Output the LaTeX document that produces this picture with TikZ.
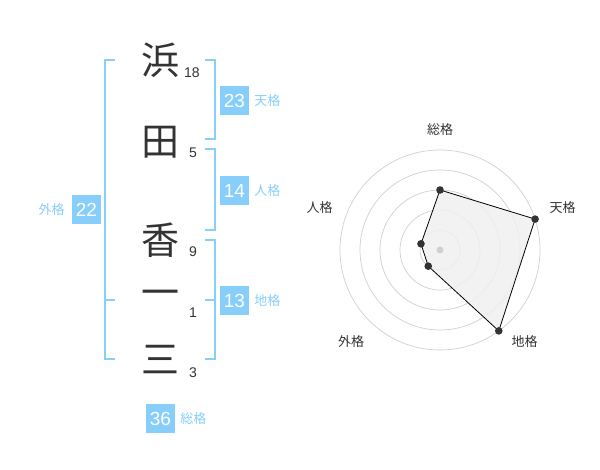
\documentclass[tikz,border=0pt]{standalone}
\usepackage{fontspec}
\setmainfont{Liberation Sans}
\newfontfamily\cjk{Noto Sans CJK JP}
\usetikzlibrary{positioning}
\begin{document}
\begin{tikzpicture}[x=1pt,y=1pt,
  kanji/.style={text=textColor,inner sep=0pt,font=\cjk\fontsize{38}{38}\selectfont},
  strokes/.style={text=textColor,inner sep=0pt,font=\fontsize{14}{14}\selectfont},
  kakubox/.style={fill=kakuColor,text=white,inner sep=0pt,minimum size=29pt,font=\fontsize{19}{19}\selectfont},
  kakulabel/.style={text=kakuColor,inner sep=0pt,font=\cjk\fontsize{13}{13}\selectfont},
  bracket/.style={draw=kakuColor,line width=2pt},
  axislabel/.style={text=textColor,inner sep=0pt,font=\cjk\fontsize{13}{13}\selectfont},
  ring/.style={draw=ringColor,line width=0.7pt},
  dot/.style={fill=textColor}]
\definecolor{fillColor}{RGB}{255,255,255}
\definecolor{textColor}{RGB}{51,51,51}
\definecolor{kakuColor}{RGB}{135,206,250}
\definecolor{ringColor}{RGB}{208,208,208}
\definecolor{areaColor}{RGB}{240,240,240}
\path[use as bounding box,fill=fillColor] (0,0) rectangle (600,470);

\node[kanji] (hama) at (160,410) {浜};
\node[kanji] (ta) at (160,328) {田};
\node[kanji] (kaori) at (160,230) {香};
\node[kanji] (ichi) at (160,172) {一};
\node[kanji] (san) at (160,110) {三};

\node[strokes] (nHama) at (192,397) {18};
\node[strokes] (nTa) at (193,317) {5};
\node[strokes] (nKaori) at (193,218) {9};
\node[strokes] (nIchi) at (193,157) {1};
\node[strokes] (nSan) at (193, 97) {3};

\path[bracket] (115,410) -- (105,410) -- (105,111) -- (115,111);
\path[bracket] (105,170) -- (115,170);
\path[bracket] (205,410) -- (215,410) -- (215,331) -- (205,331);
\path[bracket] (205,321) -- (215,321) -- (215,240) -- (205,240);
\path[bracket] (205,230) -- (215,230) -- (215,111) -- (205,111);
\path[bracket] (205,170) -- (215,170);

\node[kakubox] (ten) at (234.5,369.5) {23};
\node[kakulabel,right=5pt of ten] (tenL) {天格};
\node[kakubox] (jin) at (234.5,279.5) {14};
\node[kakulabel,right=5pt of jin] (jinL) {人格};
\node[kakubox] (chi) at (234.5,169.5) {13};
\node[kakulabel,right=5pt of chi] (chiL) {地格};
\node[kakubox] (gai) at ( 86.5,260.0) {22};
\node[kakulabel,left=7pt of gai] (gaiL) {外格};
\node[kakubox] (sou) at (160.5, 51.0) {36};
\node[kakulabel,right=5pt of sou] (souL) {総格};

\begin{scope}[shift={(440,220)}]
\foreach \r in {20,40,60,80,100}
  \path[ring] (0,0) circle (\r);
\coordinate (pSou) at (90:60);
\coordinate (pTen) at (18:100);
\coordinate (pChi) at (-54:100);
\coordinate (pGai) at (234:20);
\coordinate (pJin) at (162:20);
\path[draw=black,line width=0.8pt,fill=areaColor,fill opacity=0.85] (pSou) -- (pTen) -- (pChi) -- (pGai) -- (pJin) -- cycle;
\fill[ringColor] (0,0) circle (3.5);
\foreach \p in {pSou,pTen,pChi,pGai,pJin}
  \path[dot] (\p) circle (3.8);
\end{scope}

\node[axislabel] (aSou) at (440.0,340) {総格};
\node[axislabel] (aTen) at (562.5,262) {天格};
\node[axislabel] (aChi) at (524.5,128) {地格};
\node[axislabel] (aGai) at (351.0,128) {外格};
\node[axislabel] (aJin) at (319.5,262) {人格};
\end{tikzpicture}
\end{document}
